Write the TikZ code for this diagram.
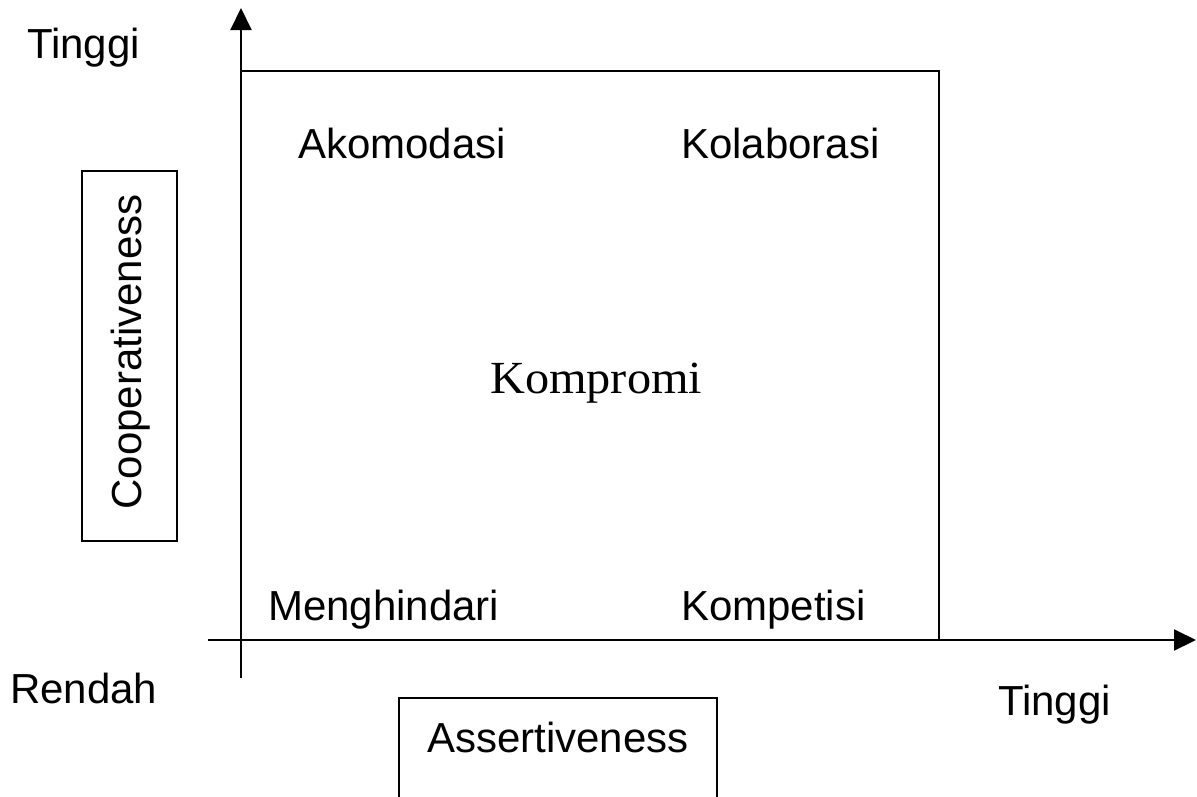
\documentclass[tikz,border=0pt]{standalone}
\usepackage{fontspec}
\setmainfont{Liberation Sans}
\newfontfamily\serifk{Liberation Serif}
\usetikzlibrary{arrows.meta}
\begin{document}
\begin{tikzpicture}[x=1pt,y=-1pt,
  lbl/.style={font=\fontsize{42}{50}\selectfont, inner sep=0pt, anchor=base west},
  ax/.style={line width=2pt, -{Triangle[length=22pt,width=21pt]}},
  frame/.style={line width=1.6pt},
  box/.style={draw, line width=1.6pt, inner sep=0pt}]
\useasboundingbox (0,0) rectangle (1197,796);
% axes
\coordinate (yo) at (241,678);
\coordinate (yt) at (241,8);
\coordinate (xo) at (208,640);
\coordinate (xt) at (1196,640);
\draw[ax] (yo) -- (yt);
\draw[ax] (xo) -- (xt);
% quadrant frame
\coordinate (tl) at (241,71);
\coordinate (br) at (939,640);
\draw[frame] (tl) -- (br |- tl) -- (br);
% labels
\node[lbl] (ty) at (27,58) {Tinggi};
\node[lbl] (ako) at (298,158) {Akomodasi};
\node[lbl] (kol) at (681,158) {Kolaborasi};
\node[lbl] (men) at (268,620) {Menghindari};
\node[lbl] (kpt) at (681,620) {Kompetisi};
\node[lbl] (ren) at (10,703) {Rendah};
\node[lbl] (tx) at (998,715) {Tinggi};
\node[lbl, font=\serifk\fontsize{46}{54}\selectfont, xscale=1.05] (kom) at (490,393) {Kompromi};
% cooperativeness box
\node[box, minimum width=95pt, minimum height=370pt] (coopbox) at (129.5,356) {};
\node[font=\fontsize{42}{50}\selectfont, rotate=90, inner sep=0pt] (coop) at (131,352) {Cooperativeness};
% assertiveness box
\draw[frame] (399,800) |- (717,698) -- (717,800);
\node[lbl] (ass) at (427,752) {Assertiveness};
\end{tikzpicture}
\end{document}
